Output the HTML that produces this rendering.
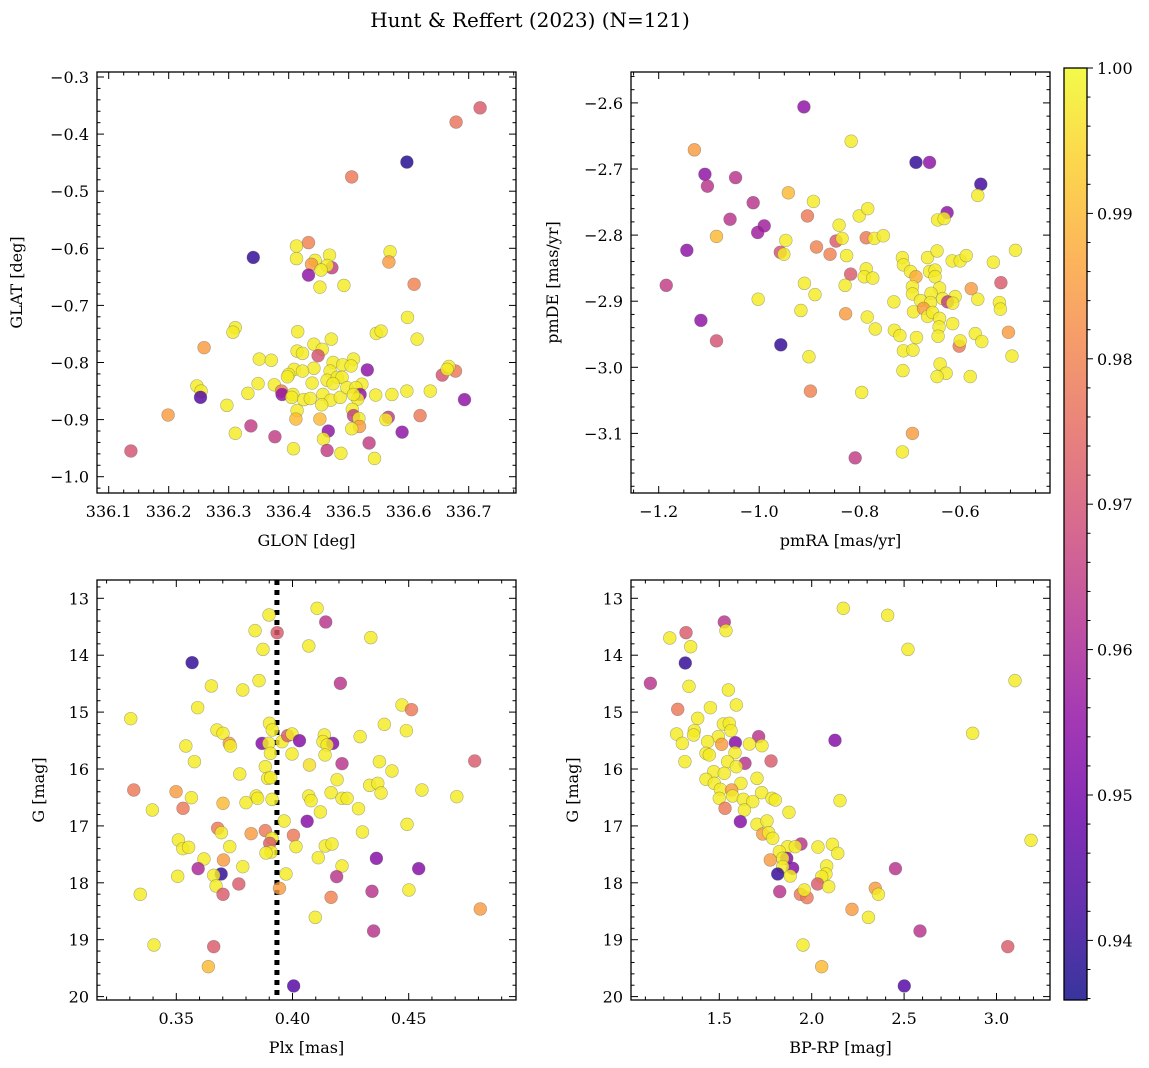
<!DOCTYPE html>
<html><head><meta charset="utf-8"><style>
html,body{margin:0;padding:0;background:#fff;}
svg{display:block;font-family:"DejaVu Serif","Liberation Serif",serif;}
</style></head><body>
<svg id="fig" width="1149" height="1068" viewBox="0 0 1149 1068" xmlns="http://www.w3.org/2000/svg">
<text x="530" y="27" font-size="20" text-anchor="middle">Hunt &amp; Reffert (2023) (N=121)</text>
</svg>
<script>
// ---------- Panel 1 data: GLON vs GLAT ----------
const glon = [336.719,336.679,336.597,336.505,336.413,336.433,336.341,336.413,336.444,336.438,336.468,336.472,336.464,336.454,336.433,336.452,336.492,336.569,336.567,336.609,336.598,336.614,336.546,336.554,336.311,336.307,336.259,336.415,336.471,336.442,336.456,336.414,336.423,336.449,336.351,336.371,336.531,336.474,336.490,336.508,336.504,336.442,336.409,336.423,336.400,336.398,336.469,336.464,336.481,336.489,336.439,336.349,336.376,336.388,336.389,336.407,336.405,336.425,336.436,336.457,336.470,336.486,336.474,336.497,336.522,336.512,336.519,336.515,336.508,336.545,336.572,336.597,336.636,336.656,336.678,336.667,336.664,336.693,336.247,336.254,336.253,336.332,336.297,336.199,336.414,336.412,336.452,336.455,336.506,336.508,336.517,336.518,336.505,336.566,336.562,336.619,336.589,336.466,336.458,336.337,336.377,336.311,336.408,336.464,336.487,336.534,336.543,336.137];
const glat = [-0.354,-0.379,-0.449,-0.475,-0.596,-0.590,-0.616,-0.618,-0.621,-0.628,-0.612,-0.634,-0.630,-0.638,-0.647,-0.668,-0.665,-0.606,-0.624,-0.663,-0.721,-0.759,-0.749,-0.745,-0.739,-0.747,-0.774,-0.746,-0.759,-0.768,-0.777,-0.780,-0.784,-0.788,-0.794,-0.796,-0.813,-0.800,-0.804,-0.794,-0.806,-0.810,-0.812,-0.815,-0.821,-0.825,-0.815,-0.831,-0.826,-0.826,-0.836,-0.837,-0.839,-0.850,-0.856,-0.856,-0.861,-0.865,-0.863,-0.856,-0.866,-0.861,-0.837,-0.844,-0.838,-0.844,-0.856,-0.864,-0.856,-0.857,-0.856,-0.850,-0.850,-0.822,-0.815,-0.807,-0.812,-0.865,-0.841,-0.850,-0.861,-0.854,-0.875,-0.892,-0.884,-0.899,-0.899,-0.874,-0.882,-0.893,-0.898,-0.912,-0.916,-0.896,-0.900,-0.893,-0.922,-0.920,-0.934,-0.911,-0.930,-0.924,-0.951,-0.954,-0.959,-0.941,-0.968,-0.955];
const prob1 = [0.972,0.977,0.938,0.978,0.998,0.98,0.94,0.998,0.998,0.985,0.998,0.965,0.998,0.998,0.955,0.998,0.998,0.998,0.985,0.98,0.998,0.998,0.998,0.998,0.998,0.998,0.985,0.998,0.998,0.998,0.998,0.998,0.998,0.97,0.998,0.998,0.955,0.998,0.998,0.998,0.998,0.998,0.998,0.998,0.998,0.998,0.998,0.998,0.998,0.998,0.998,0.998,0.998,0.98,0.955,0.998,0.998,0.998,0.998,0.998,0.998,0.998,0.998,0.998,0.998,0.998,0.955,0.998,0.998,0.998,0.998,0.998,0.998,0.97,0.978,0.998,0.998,0.955,0.998,0.998,0.945,0.998,0.998,0.985,0.998,0.99,0.99,0.998,0.998,0.965,0.998,0.985,0.998,0.965,0.998,0.978,0.955,0.955,0.998,0.965,0.965,0.998,0.998,0.965,0.998,0.965,0.998,0.97];

// ---------- Panel 2 data: pmRA vs pmDE ----------
const pmra = [-0.911,-0.817,-1.129,-0.695,-0.715,-0.809,-0.688,-0.661,-1.108,-1.103,-1.047,-0.559,-0.565,-0.942,-0.892,-1.012,-1.058,-0.904,-0.801,-0.784,-0.990,-1.003,-1.085,-0.626,-0.645,-0.632,-0.841,-0.847,-0.835,-0.787,-0.771,-0.753,-0.947,-1.144,-0.958,-0.951,-0.886,-0.859,-0.826,-0.818,-0.787,-0.791,-0.774,-0.829,-1.185,-0.910,-0.889,-1.002,-0.917,-0.828,-0.785,-0.769,-1.116,-1.085,-0.957,-0.901,-0.898,-0.796,-0.715,-0.713,-0.665,-0.646,-0.616,-0.600,-0.588,-0.534,-0.490,-0.699,-0.688,-0.661,-0.650,-0.650,-0.695,-0.695,-0.641,-0.658,-0.635,-0.610,-0.625,-0.615,-0.679,-0.659,-0.578,-0.565,-0.519,-0.732,-0.693,-0.673,-0.665,-0.655,-0.641,-0.642,-0.644,-0.615,-0.522,-0.520,-0.570,-0.557,-0.504,-0.731,-0.720,-0.687,-0.713,-0.694,-0.602,-0.600,-0.497,-0.714,-0.640,-0.628,-0.646,-0.580];
const pmde = [-2.606,-2.658,-2.671,-3.100,-3.128,-3.137,-2.690,-2.690,-2.708,-2.726,-2.713,-2.723,-2.740,-2.736,-2.749,-2.751,-2.776,-2.771,-2.771,-2.760,-2.786,-2.796,-2.802,-2.766,-2.777,-2.775,-2.785,-2.809,-2.805,-2.804,-2.805,-2.801,-2.808,-2.823,-2.826,-2.829,-2.818,-2.829,-2.831,-2.859,-2.851,-2.863,-2.865,-2.876,-2.876,-2.873,-2.890,-2.897,-2.914,-2.919,-2.924,-2.942,-2.929,-2.960,-2.966,-2.984,-3.036,-3.038,-2.834,-2.845,-2.834,-2.824,-2.839,-2.839,-2.831,-2.841,-2.823,-2.855,-2.863,-2.855,-2.853,-2.863,-2.878,-2.889,-2.880,-2.888,-2.896,-2.893,-2.901,-2.903,-2.899,-2.902,-2.881,-2.897,-2.872,-2.901,-2.916,-2.911,-2.923,-2.917,-2.926,-2.939,-2.953,-2.934,-2.902,-2.912,-2.949,-2.961,-2.947,-2.944,-2.952,-2.955,-2.975,-2.974,-2.968,-2.960,-2.983,-3.005,-2.995,-3.009,-3.014,-3.014];
const prob2 = [0.955,0.998,0.985,0.985,0.998,0.965,0.94,0.955,0.955,0.963,0.963,0.942,0.998,0.99,0.998,0.963,0.963,0.978,0.998,0.998,0.958,0.958,0.99,0.955,0.998,0.998,0.998,0.972,0.998,0.978,0.998,0.998,0.998,0.955,0.97,0.998,0.98,0.98,0.998,0.972,0.998,0.998,0.998,0.998,0.965,0.998,0.998,0.998,0.998,0.985,0.998,0.998,0.955,0.97,0.94,0.998,0.98,0.998,0.998,0.998,0.998,0.998,0.998,0.998,0.998,0.998,0.998,0.998,0.988,0.998,0.998,0.998,0.998,0.998,0.998,0.998,0.998,0.998,0.965,0.998,0.998,0.998,0.985,0.998,0.972,0.998,0.998,0.985,0.998,0.998,0.998,0.998,0.998,0.998,0.998,0.998,0.998,0.998,0.985,0.998,0.998,0.998,0.998,0.998,0.978,0.998,0.998,0.998,0.998,0.998,0.998,0.998];

// ---------- Panel 3 data: Plx vs G ----------
const plx = [0.4106,0.3899,0.4143,0.3934,0.3839,0.4070,0.3873,0.4337,0.3568,0.4206,0.3651,0.3786,0.3856,0.3592,0.4471,0.4512,0.3304,0.4395,0.4490,0.3901,0.3913,0.3675,0.3701,0.3728,0.3733,0.3869,0.3898,0.3955,0.3979,0.3998,0.4030,0.4137,0.4131,0.4173,0.4149,0.4291,0.3541,0.3905,0.3998,0.4140,0.3578,0.4073,0.4213,0.4374,0.4784,0.3883,0.3773,0.4428,0.3893,0.3906,0.4192,0.4332,0.4367,0.4381,0.4557,0.4707,0.3317,0.3499,0.3565,0.3529,0.3397,0.3701,0.3800,0.3844,0.3850,0.3912,0.4070,0.4080,0.4166,0.4213,0.4235,0.4120,0.4284,0.4063,0.3964,0.4493,0.3678,0.3694,0.3822,0.3883,0.3912,0.4004,0.4301,0.3509,0.3528,0.3553,0.3730,0.3902,0.3908,0.3886,0.4015,0.4141,0.4170,0.4111,0.4361,0.3619,0.3703,0.3786,0.4213,0.3594,0.4543,0.3693,0.3661,0.3972,0.3506,0.4190,0.3671,0.3769,0.3701,0.3944,0.3345,0.4166,0.4342,0.4501,0.4808,0.4098,0.4349,0.3404,0.3661,0.3638,0.4005];
const gmag3 = [13.176,13.293,13.416,13.604,13.568,13.838,13.897,13.691,14.131,14.494,14.541,14.611,14.447,14.922,14.875,14.957,15.115,15.215,15.326,15.197,15.314,15.314,15.373,15.549,15.595,15.549,15.549,15.519,15.414,15.385,15.502,15.402,15.519,15.549,15.578,15.431,15.595,15.724,15.736,15.753,15.871,15.929,15.906,15.871,15.859,15.959,16.087,16.035,16.164,16.152,16.187,16.287,16.252,16.421,16.369,16.486,16.369,16.398,16.504,16.691,16.720,16.603,16.591,16.474,16.515,16.533,16.474,16.556,16.416,16.515,16.515,16.755,16.697,16.919,16.914,16.972,17.042,17.119,17.136,17.083,17.218,17.165,17.107,17.248,17.400,17.376,17.365,17.306,17.458,17.476,17.365,17.353,17.318,17.558,17.570,17.581,17.599,17.716,17.704,17.751,17.751,17.845,17.868,17.845,17.886,17.892,18.056,18.021,18.202,18.097,18.202,18.255,18.150,18.126,18.460,18.607,18.847,19.093,19.122,19.474,19.813];
const prob3 = [0.998,0.998,0.963,0.972,0.998,0.998,0.998,0.998,0.94,0.963,0.998,0.998,0.998,0.998,0.998,0.978,0.998,0.998,0.998,0.998,0.998,0.998,0.998,0.985,0.998,0.953,0.998,0.998,0.972,0.998,0.953,0.998,0.998,0.953,0.998,0.998,0.998,0.998,0.998,0.998,0.998,0.996,0.963,0.998,0.972,0.998,0.998,0.998,0.998,0.998,0.998,0.998,0.998,0.998,0.998,0.998,0.978,0.985,0.998,0.978,0.998,0.99,0.998,0.998,0.998,0.998,0.998,0.998,0.998,0.998,0.998,0.998,0.998,0.953,0.998,0.998,0.978,0.998,0.985,0.978,0.998,0.978,0.998,0.998,0.998,0.998,0.998,0.972,0.998,0.998,0.998,0.998,0.998,0.998,0.953,0.998,0.985,0.998,0.998,0.96,0.953,0.94,0.998,0.998,0.998,0.963,0.998,0.972,0.972,0.985,0.998,0.98,0.963,0.998,0.985,0.998,0.963,0.998,0.972,0.99,0.945];

// ---------- Panel 4 data: BP-RP vs G ----------
const bprp = [2.171,2.411,2.521,3.100,1.527,1.536,1.320,1.232,1.345,1.316,1.127,1.336,1.549,1.592,1.452,1.275,1.383,1.522,1.554,1.365,1.563,1.269,1.361,1.495,1.300,1.437,1.513,1.587,1.713,1.663,1.731,2.126,2.871,1.428,1.446,1.585,1.545,1.639,1.780,1.314,1.592,1.470,1.527,1.428,1.704,1.473,1.617,1.506,1.567,1.729,1.500,1.572,1.630,1.681,1.785,1.803,2.153,1.531,1.636,1.877,1.614,1.704,1.758,1.735,1.767,1.789,3.187,1.942,1.870,1.825,1.911,2.034,2.112,2.141,1.865,1.843,1.776,1.897,1.843,2.081,2.453,1.816,1.884,2.077,2.054,2.032,2.092,1.827,1.939,1.975,1.960,2.344,2.361,2.218,2.307,2.586,1.953,3.061,2.054,2.501];
const gmag4 = [13.176,13.299,13.897,14.447,13.416,13.568,13.604,13.697,13.850,14.137,14.494,14.547,14.611,14.875,14.922,14.951,15.109,15.209,15.197,15.326,15.326,15.385,15.402,15.431,15.549,15.519,15.566,15.537,15.431,15.560,15.590,15.496,15.373,15.724,15.753,15.712,15.871,15.900,15.859,15.871,15.959,16.047,16.076,16.181,16.164,16.252,16.252,16.357,16.369,16.416,16.515,16.474,16.533,16.574,16.515,16.544,16.556,16.691,16.720,16.761,16.925,16.972,16.914,17.142,17.119,17.218,17.253,17.318,17.365,17.452,17.365,17.371,17.324,17.482,17.570,17.570,17.599,17.745,17.716,17.704,17.751,17.845,17.880,17.845,17.892,18.021,18.068,18.155,18.202,18.261,18.126,18.097,18.202,18.466,18.607,18.847,19.093,19.122,19.474,19.813];
const prob4 = [0.998,0.998,0.998,0.998,0.963,0.998,0.972,0.998,0.998,0.94,0.963,0.998,0.998,0.998,0.998,0.978,0.998,0.998,0.998,0.998,0.998,0.998,0.998,0.998,0.998,0.998,0.985,0.953,0.963,0.998,0.998,0.953,0.998,0.998,0.998,0.998,0.998,0.963,0.972,0.998,0.998,0.998,0.998,0.998,0.998,0.998,0.998,0.998,0.985,0.998,0.998,0.998,0.998,0.998,0.998,0.998,0.998,0.978,0.998,0.998,0.953,0.998,0.998,0.985,0.998,0.998,0.998,0.963,0.998,0.998,0.998,0.998,0.998,0.998,0.953,0.998,0.985,0.953,0.998,0.998,0.963,0.94,0.998,0.998,0.998,0.972,0.998,0.963,0.978,0.978,0.998,0.985,0.998,0.985,0.998,0.963,0.998,0.972,0.99,0.945];

// ---------- Colorbar ticks ----------
const cbTicks = [0.94,0.95,0.96,0.97,0.98,0.99,1.00];
const cbTickLabels = ["0.94","0.95","0.96","0.97","0.98","0.99","1.00"];
const VMIN = 0.9359, VMAX = 1.0;

const NS = "http://www.w3.org/2000/svg";
const svg = document.getElementById('fig');
function mk(tag, attrs, parent) {
  const e = document.createElementNS(NS, tag);
  for (const k in attrs) e.setAttribute(k, attrs[k]);
  (parent || svg).appendChild(e);
  return e;
}
const plasma = [[13,8,135],[65,4,157],[106,0,168],[143,13,164],[177,42,144],[204,71,120],[225,100,98],[242,132,75],[252,166,54],[252,206,37],[240,249,33]];
function cmap(v) {
  let t = (v - VMIN) / (VMAX - VMIN);
  t = Math.max(0, Math.min(1, t)) * 10;
  const i = Math.min(9, Math.floor(t)), f = t - i;
  const a = plasma[i], b = plasma[i + 1];
  return 'rgb(' + [0,1,2].map(k => Math.round(a[k] + (b[k] - a[k]) * f)).join(',') + ')';
}
function fmt(v, d) { const s = v.toFixed(d); return s.replace('-', '\u2212'); }

function panel(cfg) {
  const g = mk('g', {});
  
  
  const L = cfg.L, R = cfg.R, T = cfg.T, B = cfg.B;
  const sx = v => cfg.x0px + (v - cfg.x0) * cfg.xs;
  const sy = v => cfg.y0px + (v - cfg.y0) * cfg.ys;
  const clip = mk('clipPath', { id: cfg.name + '-clip' }, g);
  mk('rect', { x: L, y: T, width: R - L, height: B - T }, clip);
  const pts = mk('g', { 'clip-path': 'url(#' + cfg.name + '-clip)' }, g);
  
  
  if (cfg.vline !== undefined) {
    const vl = mk('line', { x1: sx(cfg.vline), x2: sx(cfg.vline), y1: T, y2: B, stroke: '#000', 'stroke-width': 5, 'stroke-dasharray': '5,5' }, pts);
    
    
  }
  for (let i = 0; i < cfg.xs_d.length; i++) {
    const c = mk('circle', { cx: sx(cfg.xs_d[i]), cy: sy(cfg.ys_d[i]), r: 6.4, fill: cmap(cfg.p[i]), 'fill-opacity': 0.82, stroke: '#555', 'stroke-opacity': 0.45, 'stroke-width': 0.6 }, pts);
    
    
  }
  mk('rect', { x: L, y: T, width: R - L, height: B - T, fill: 'none', stroke: '#000', 'stroke-width': 1.3 }, g);
  const xt = cfg.xticks;
  const xmin = Math.min(cfg.xinv(L), cfg.xinv(R)), xmax = Math.max(cfg.xinv(L), cfg.xinv(R));
  const step = xt[1] - xt[0], mstep = step / cfg.xminor;
  const kStart = Math.ceil((xmin - xt[0]) / mstep), kEnd = Math.floor((xmax - xt[0]) / mstep);
  for (let k = kStart; k <= kEnd; k++) {
    const v = xt[0] + k * mstep;
    const px = sx(v); if (px < L || px > R) continue;
    const major = ((k % cfg.xminor) + cfg.xminor) % cfg.xminor === 0;
    const len = major ? 7 : 3.5;
    mk('line', { x1: px, x2: px, y1: B, y2: B - len, stroke: '#000', 'stroke-width': 1 }, g);
    mk('line', { x1: px, x2: px, y1: T, y2: T + len, stroke: '#000', 'stroke-width': 1 }, g);
  }
  xt.forEach((v, i) => {
    const t = mk('text', { x: sx(v), y: B + 24, 'font-size': 16, 'text-anchor': 'middle' }, g);
    
    
    t.textContent = cfg.xlabels[i];
  });
  const yt = cfg.yticks;
  const ystep = Math.abs(yt[1] - yt[0]), ymstep = ystep / cfg.yminor;
  const ya = Math.min(cfg.yinv(T), cfg.yinv(B)), yb = Math.max(cfg.yinv(T), cfg.yinv(B));
  const y0t = Math.min.apply(null, yt);
  const jStart = Math.ceil((ya - y0t) / ymstep), jEnd = Math.floor((yb - y0t) / ymstep);
  for (let j = jStart; j <= jEnd; j++) {
    const v = y0t + j * ymstep;
    const py = sy(v); if (py < T || py > B) continue;
    const major = ((j % cfg.yminor) + cfg.yminor) % cfg.yminor === 0;
    const len = major ? 7 : 3.5;
    mk('line', { x1: L, x2: L + len, y1: py, y2: py, stroke: '#000', 'stroke-width': 1 }, g);
    mk('line', { x1: R, x2: R - len, y1: py, y2: py, stroke: '#000', 'stroke-width': 1 }, g);
  }
  yt.forEach((v, i) => {
    const t = mk('text', { x: L - 8, y: sy(v) + 6, 'font-size': 16, 'text-anchor': 'end' }, g);
    
    
    t.textContent = cfg.ylabels[i];
  });
  const xl = mk('text', { x: (L + R) / 2, y: B + 53, 'font-size': 16, 'text-anchor': 'middle' }, g);
  
  
  xl.textContent = cfg.xtitle;
  const yl = mk('text', { x: 0, y: 0, 'font-size': 16, 'text-anchor': 'middle', transform: 'translate(' + cfg.ytx + ',' + (T + B) / 2 + ') rotate(-90)' }, g);
  
  
  yl.textContent = cfg.ytitle;
}

function mkcfg(o) {
  o.xinv = px => o.x0 + (px - o.x0px) / o.xs;
  o.yinv = py => o.y0 + (py - o.y0px) / o.ys;
  return o;
}
const p1x = [336.1,336.2,336.3,336.4,336.5,336.6,336.7];
const p1y = [-0.3,-0.4,-0.5,-0.6,-0.7,-0.8,-0.9,-1.0];
panel(mkcfg({ name: 'panel-glon-glat', L: 97, R: 516, T: 72, B: 493, x0: 336.1, x0px: 108.7, xs: 600, y0: -1.0, y0px: 476.7, ys: -571,
  xs_d: glon, ys_d: glat, p: prob1, xticks: p1x, xlabels: p1x.map(v => v.toFixed(1)), xminor: 4,
  yticks: p1y, ylabels: p1y.map(v => fmt(v, 1)), yminor: 5, xtitle: 'GLON [deg]', ytitle: 'GLAT [deg]', ytx: 22 }));
const p2x = [-1.2,-1.0,-0.8,-0.6];
const p2y = [-2.6,-2.7,-2.8,-2.9,-3.0,-3.1];
panel(mkcfg({ name: 'panel-pmra-pmde', L: 631, R: 1050, T: 72, B: 493, x0: -1.2, x0px: 658.7, xs: 502.5, y0: -2.7, y0px: 169, ys: -661,
  xs_d: pmra, ys_d: pmde, p: prob2, xticks: p2x, xlabels: p2x.map(v => fmt(v, 1)), xminor: 4,
  yticks: p2y, ylabels: p2y.map(v => fmt(v, 1)), yminor: 5, xtitle: 'pmRA [mas/yr]', ytitle: 'pmDE [mas/yr]', ytx: 558 }));
const p3x = [0.35,0.40,0.45];
const gy = [13,14,15,16,17,18,19,20];
panel(mkcfg({ name: 'panel-plx-g', L: 97, R: 516, T: 580, B: 1000, x0: 0.35, x0px: 176.3, xs: 2324, y0: 13, y0px: 598.3, ys: 56.9,
  xs_d: plx, ys_d: gmag3, p: prob3, xticks: p3x, xlabels: p3x.map(v => v.toFixed(2)), xminor: 5,
  yticks: gy, ylabels: gy.map(v => String(v)), yminor: 5, xtitle: 'Plx [mas]', ytitle: 'G [mag]', ytx: 44, vline: 0.3933 }));
const p4x = [1.5,2.0,2.5,3.0];
panel(mkcfg({ name: 'panel-bprp-g', L: 631, R: 1050, T: 580, B: 1000, x0: 1.5, x0px: 719.3, xs: 184.8, y0: 13, y0px: 598.3, ys: 56.9,
  xs_d: bprp, ys_d: gmag4, p: prob4, xticks: p4x, xlabels: p4x.map(v => v.toFixed(1)), xminor: 5,
  yticks: gy, ylabels: gy.map(v => String(v)), yminor: 5, xtitle: 'BP-RP [mag]', ytitle: 'G [mag]', ytx: 578 }));

// colorbar
const cb = mk('g', {});


const CL = 1064, CR = 1087, CT = 68, CB = 1000;
const defs = mk('defs', {}, cb);
const lg = mk('linearGradient', { id: 'cbgrad', x1: 0, y1: 1, x2: 0, y2: 0 }, defs);
plasma.forEach((c, i) => mk('stop', { offset: (i / 10), 'stop-color': 'rgb(' + c.join(',') + ')', 'stop-opacity': 0.82 }, lg));
mk('rect', { x: CL, y: CT, width: CR - CL, height: CB - CT, fill: 'url(#cbgrad)', stroke: '#000', 'stroke-width': 1.3 }, cb);
const cy = v => CB - (v - VMIN) / (VMAX - VMIN) * (CB - CT);
for (let k = 0; k <= 32; k++) {
  const v = 0.936 + k * 0.002;
  const major = cbTicks.some(t => Math.abs(t - v) < 0.0004);
  mk('line', { x1: CR, x2: CR + (major ? 6 : 3.5), y1: cy(v), y2: cy(v), stroke: '#000', 'stroke-width': 1 }, cb);
}
cbTicks.forEach((v, i) => {
  const t = mk('text', { x: CR + 10, y: cy(v) + 6, 'font-size': 16 }, cb);
  
  
  t.textContent = cbTickLabels[i];
});
</script>
</body></html>
